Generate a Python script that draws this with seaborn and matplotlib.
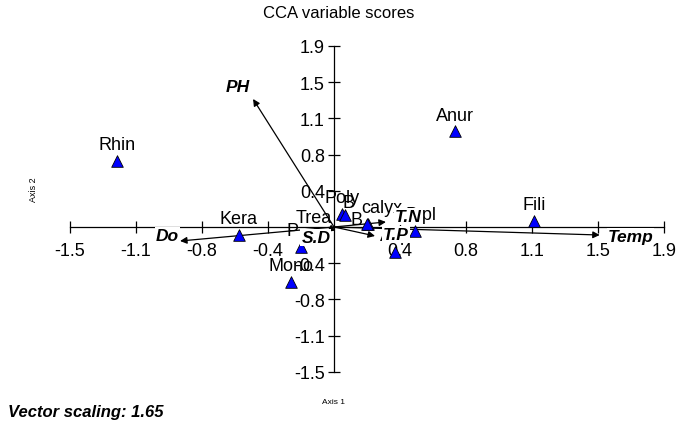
import matplotlib
matplotlib.use("Agg")
import matplotlib.pyplot as plt
import seaborn as sns
import pandas as pd

# species scores (triangles)
species = ["Rhin", "Anur", "Fili", "Kera", "Mono", "Poly", "B", "calyx", "B",
           "B.pl", "Asp", "P", "Trea"]
sp_ax1 = [-1.233, 0.688, 1.136, -0.540, -0.244, 0.045, 0.060, 0.193, 0.190,
          0.460, 0.347, -0.190, -0.114]
sp_ax2 = [0.683, 0.994, 0.062, -0.083, -0.569, 0.135, 0.125, 0.031, 0.030,
          -0.040, -0.259, -0.207, -0.070]

# environmental vectors (arrow tips)
env = ["PH", "Do", "Temp", "T.N", "T.P", "S.D"]
env_ax1 = [-0.460, -0.875, 1.510, 0.295, 0.233, -0.040]
env_ax2 = [1.325, -0.145, -0.083, 0.052, -0.093, -0.050]

ticks = [-1.5, -1.125, -0.75, -0.375, 0.375, 0.75, 1.125, 1.5, 1.875]
tick_labels = ["-1.5", "-1.1", "-0.8", "-0.4", "0.4", "0.8", "1.1", "1.5", "1.9"]

# label nudges in points (layout only)
sp_nudge = {1: (0, 11), 6: (3, 9), 7: (10, 12), 8: (-8, 3), 9: (4, 12), 11: (-6, 12)}
env_nudge = {"PH": (-11, 9), "Do": (-9, 4), "Temp": (22, -1), "T.N": (16, 4),
             "T.P": (15, 1), "S.D": (-8, -4)}

sns.set_theme(style="white")
plt.rcParams["font.family"] = ["Liberation Sans", "DejaVu Sans"]
plt.rcParams["text.color"] = "black"

fig = plt.figure(figsize=(6.77, 4.27), dpi=100)
ax = fig.add_axes([0, 0, 1, 1])
ax.set_xlim(-1.898, 1.949)
ax.set_ylim(-2.060, 2.360)
ax.patch.set_alpha(0)

for s in ["top", "right"]:
    ax.spines[s].set_visible(False)
ax.spines["left"].set_position(("data", 0))
ax.spines["bottom"].set_position(("data", 0))
ax.spines["left"].set_bounds(-1.5, 1.875)
ax.spines["bottom"].set_bounds(-1.5, 1.875)
for s in ["left", "bottom"]:
    ax.spines[s].set_color("black")
    ax.spines[s].set_linewidth(0.9)

ax.set_xticks(ticks)
ax.set_xticklabels(tick_labels)
ax.set_yticks(ticks)
ax.set_yticklabels(tick_labels)
ax.tick_params(axis="both", direction="inout", length=9, width=0.9,
               color="black", labelsize=13, labelcolor="black")
ax.tick_params(axis="x", pad=6, bottom=True)
ax.tick_params(axis="y", pad=2, left=True)

# arrows
for name, x, y in zip(env, env_ax1, env_ax2):
    ax.annotate("", xy=(x, y), xytext=(0, 0),
                arrowprops=dict(arrowstyle="-|>", color="black", lw=0.9,
                                mutation_scale=10, shrinkA=0, shrinkB=0),
                zorder=3)

df = pd.DataFrame({"name": species, "ax1": sp_ax1, "ax2": sp_ax2})
sns.scatterplot(data=df, x="ax1", y="ax2", marker="^", s=70, color="#0000ff",
                edgecolor="black", linewidth=0.6, ax=ax, zorder=4, legend=False)
ax.set_xlabel("")
ax.set_ylabel("")

for i, (name, x, y) in enumerate(zip(species, sp_ax1, sp_ax2)):
    dx, dy = sp_nudge.get(i, (0, 12))
    ax.annotate(name, (x, y), xytext=(dx, dy), textcoords="offset points",
                ha="center", va="center", fontsize=13, color="black", zorder=5)

for name, x, y in zip(env, env_ax1, env_ax2):
    dx, dy = env_nudge[name]
    ax.annotate(name, (x, y), xytext=(dx, dy), textcoords="offset points",
                ha="center", va="center", fontsize=12.5, fontweight="bold",
                fontstyle="italic", color="black", zorder=6,
                bbox=dict(boxstyle="square,pad=0.05", fc="white", ec="none"))

fig.text(0.5, 1 - 13 / 427, "CCA variable scores", ha="center", va="center",
         fontsize=12, color="black")
fig.text(334 / 677, 1 - 403 / 427, "Axis 1", ha="center", va="center",
         fontsize=6, color="black")
fig.text(34 / 677, 1 - 190 / 427, "Axis 2", ha="center", va="center",
         fontsize=6.5, rotation=90, color="black")
fig.text(8 / 677, 1 - 413 / 427, "Vector scaling: 1.65", ha="left", va="center",
         fontsize=12, fontweight="bold", fontstyle="italic", color="black")

fig.savefig("out.png", dpi=100)
